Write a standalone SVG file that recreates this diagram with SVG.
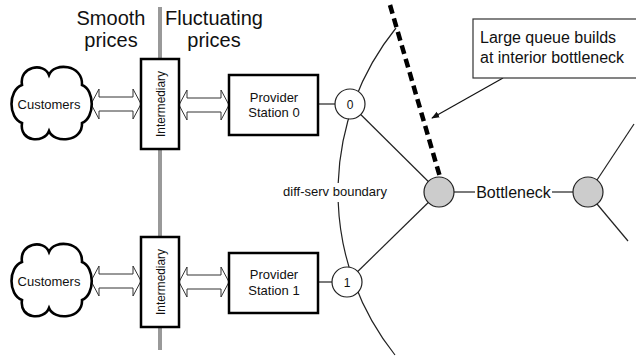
<svg xmlns="http://www.w3.org/2000/svg" width="636" height="360" viewBox="0 0 636 360">
<defs>
<style>
text{font-family:"Liberation Sans",Arial,sans-serif;fill:#111}
.box{fill:#fff;stroke:#000;stroke-width:2.5}
.thin{fill:none;stroke:#222;stroke-width:1.2}
.node{fill:#fff;stroke:#222;stroke-width:1.2}
.bn{fill:#ccc;stroke:#222;stroke-width:1.2}
.cloud{fill:#fff;stroke:#000;stroke-width:2.6}
.harrow{fill:#fff;stroke:#333;stroke-width:1}
.t13{font-size:13px}
.t16{font-size:16px}
.t20{font-size:20px}
</style>
<path id="cloudShape" d="M-27,-19 C-30,-38 -5,-42 0,-29 C5,-42 34,-40 33,-19 C46,-14 46,14 33,19 C34,38 5,40 0,27 C-5,40 -30,38 -27,19 C-41,14 -41,-14 -27,-19 Z"/>
<path id="dblArrow" d="M0,0 L8,-15 L8,-7 L42,-7 L42,-15 L50,0 L42,15 L42,7 L8,7 L8,15 Z"/>
<marker id="ah" viewBox="0 0 10 10" refX="9" refY="5" markerWidth="8" markerHeight="8" markerUnits="userSpaceOnUse" orient="auto">
<path d="M0,1 L10,5 L0,9 Z" fill="#111"/>
</marker>
</defs>
<rect width="636" height="360" fill="#fff"/>

<g id="labels">
<text class="t20" x="111" y="25" text-anchor="middle">Smooth</text>
<text class="t20" x="111" y="47" text-anchor="middle">prices</text>
<text class="t20" x="214" y="25" text-anchor="middle">Fluctuating</text>
<text class="t20" x="214" y="47" text-anchor="middle">prices</text>
</g>

<g id="divider">
<line x1="160" y1="7" x2="160" y2="350" stroke="#999" stroke-width="4"/>
</g>

<g id="connectors">
<path class="thin" d="M396,28 A261,261 0 0 0 338.2,183"/>
<path class="thin" d="M338.2,202 A261,261 0 0 0 395,355"/>
<use href="#dblArrow" x="91" y="104" class="harrow"/>
<use href="#dblArrow" x="179" y="105" class="harrow"/>
<use href="#dblArrow" x="91" y="281" class="harrow"/>
<use href="#dblArrow" x="179" y="282" class="harrow"/>
<line class="thin" x1="318" y1="104" x2="335" y2="104"/>
<line class="thin" x1="318" y1="282" x2="332" y2="282"/>
<line class="thin" x1="360.7" y1="114.5" x2="428.3" y2="181.5"/>
<line class="thin" x1="357.7" y1="271.5" x2="428.3" y2="202.5"/>
<line class="thin" x1="454" y1="192" x2="475" y2="192"/>
<line class="thin" x1="552" y1="192" x2="573" y2="192"/>
<line class="thin" x1="597" y1="180" x2="634" y2="124"/>
<line class="thin" x1="597" y1="204" x2="628" y2="241"/>
<line x1="503" y1="78" x2="432" y2="118" stroke="#111" stroke-width="1.2" marker-end="url(#ah)"/>
</g>

<g id="customers0">
<use href="#cloudShape" x="49" y="104" class="cloud"/>
<text class="t13" x="49" y="108.5" text-anchor="middle">Customers</text>
</g>
<g id="customers1">
<use href="#cloudShape" x="49" y="281" class="cloud"/>
<text class="t13" x="49" y="285.5" text-anchor="middle">Customers</text>
</g>

<g id="intermediary0">
<rect class="box" x="141" y="59" width="38" height="90"/>
<text class="t13" font-size="14" transform="translate(164.5,104) rotate(-90)" text-anchor="middle" textLength="66" lengthAdjust="spacingAndGlyphs">Intermediary</text>
</g>
<g id="intermediary1">
<rect class="box" x="141" y="237" width="38" height="90"/>
<text class="t13" font-size="14" transform="translate(164.5,282) rotate(-90)" text-anchor="middle" textLength="66" lengthAdjust="spacingAndGlyphs">Intermediary</text>
</g>

<g id="provider0">
<rect class="box" x="229" y="75" width="89" height="60"/>
<text class="t13" x="274" y="102" text-anchor="middle">Provider</text>
<text class="t13" x="274" y="117" text-anchor="middle">Station 0</text>
</g>
<g id="provider1">
<rect class="box" x="229" y="253" width="89" height="60"/>
<text class="t13" x="274" y="279" text-anchor="middle">Provider</text>
<text class="t13" x="274" y="295" text-anchor="middle">Station 1</text>
</g>

<g id="station0">
<circle class="node" cx="350" cy="104" r="15"/>
<text x="350" y="108.5" font-size="12" text-anchor="middle">0</text>
</g>
<g id="station1">
<circle class="node" cx="347" cy="282" r="15"/>
<text x="347" y="286.5" font-size="12" text-anchor="middle">1</text>
</g>

<g id="boundaryLabel">
<text class="t13" x="335" y="196" text-anchor="middle">diff-serv boundary</text>
</g>

<g id="bottleneckLeft">
<circle class="bn" cx="439" cy="192" r="15"/>
</g>
<g id="bottleneckLabel">
<text class="t16" x="513.5" y="197.5" text-anchor="middle">Bottleneck</text>
</g>
<g id="bottleneckRight">
<circle class="bn" cx="588" cy="192" r="15"/>
</g>

<g id="queueLine">
<line x1="390" y1="5" x2="440" y2="177" stroke="#000" stroke-width="4.5" stroke-dasharray="9,5"/>
</g>

<g id="callout">
<rect x="473" y="19" width="170" height="59" fill="#fff" stroke="#333" stroke-width="1.2"/>
<text class="t16" x="480" y="43">Large queue builds</text>
<text class="t16" x="480" y="63">at interior bottleneck</text>
</g>
</svg>
